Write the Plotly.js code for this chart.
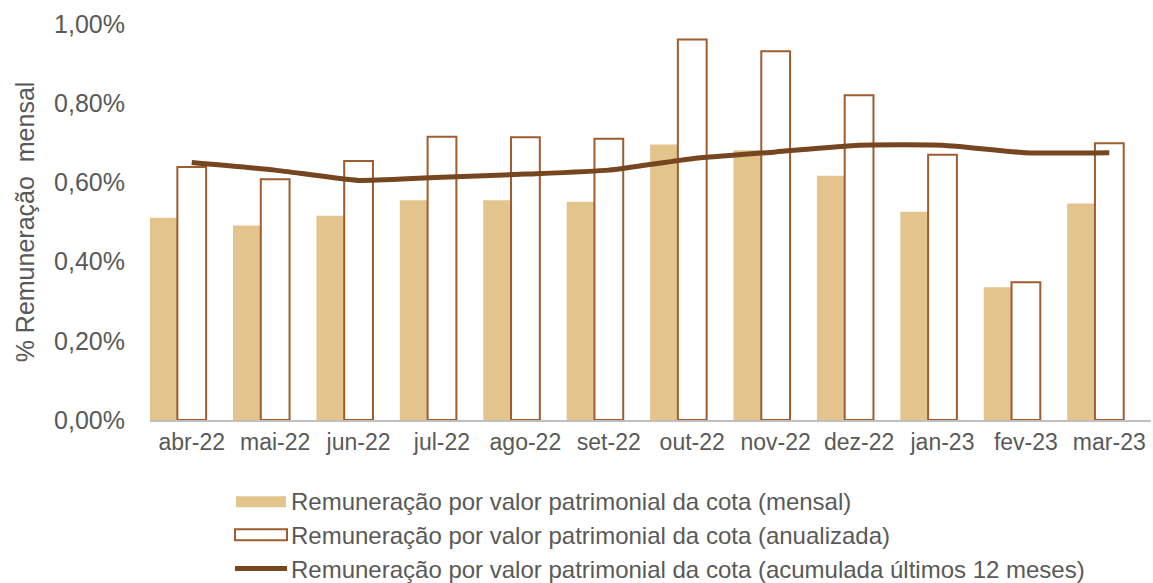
<!DOCTYPE html>
<html>
<head>
<meta charset="utf-8">
<script src="https://cdn.plot.ly/plotly-3.0.1.min.js"></script>
<style>html,body{margin:0;padding:0;background:#fff;}#chart{width:1153px;height:583px;}</style>
</head>
<body>
<div id="chart"></div>
<script>
const categories = ["abr-22","mai-22","jun-22","jul-22","ago-22","set-22","out-22","nov-22","dez-22","jan-23","fev-23","mar-23"];
const mensal = [0.511,0.491,0.516,0.555,0.555,0.551,0.696,0.681,0.617,0.526,0.335,0.547];
const anualizada = [0.639,0.608,0.654,0.715,0.714,0.710,0.961,0.931,0.820,0.670,0.348,0.699];
const acumulada = [0.650,0.631,0.605,0.613,0.621,0.631,0.660,0.677,0.694,0.694,0.675,0.675];
const seriesNames = [
  "Remuneração por valor patrimonial da cota (mensal)",
  "Remuneração por valor patrimonial da cota (anualizada)",
  "Remuneração por valor patrimonial da cota (acumulada últimos 12 meses)"
];
const yTitle = "% Remuneração  mensal";

const cMensal = "#E3C48D", cAnual = "#9E5C2F", cLine = "#75461F", cText = "#595959";
const FONT = "Liberation Sans, Arial, sans-serif";

// plot area geometry in pixels
const L = 150, R = 2, T = 23.5, B = 162.5, W = 1153, H = 583;
const pw = W - L - R, ph = H - T - B;
const px = x => (x - L) / pw;
const py = y => (H - B - y) / ph;

const traces = [
  {type:"bar", x:categories, y:mensal, name:seriesNames[0], marker:{color:cMensal, line:{width:0}},
   width:0.335, offset:-0.505, showlegend:false, hoverinfo:"x+y"},
  {type:"bar", x:categories, y:anualizada, name:seriesNames[1], marker:{color:"#FFFFFF", line:{color:cAnual, width:2}},
   width:0.345, offset:-0.172, showlegend:false, hoverinfo:"x+y"},
  {type:"scatter", mode:"lines", x:categories, y:acumulada, name:seriesNames[2],
   line:{color:cLine, width:5, shape:"spline", smoothing:0.5}, showlegend:false, hoverinfo:"x+y"}
];

const shapes = [
  {type:"rect", xref:"paper", yref:"paper", x0:px(236), x1:px(286), y0:py(508), y1:py(497), fillcolor:cMensal, line:{width:0}},
  {type:"rect", xref:"paper", yref:"paper", x0:px(235), x1:px(287), y0:py(541), y1:py(530), fillcolor:"#FFFFFF", line:{color:cAnual, width:2}},
  {type:"line", xref:"paper", yref:"paper", x0:px(235), x1:px(287), y0:py(569.5), y1:py(569.5), line:{color:cLine, width:5}}
];
const legY = [502, 536, 570];
const annotations = seriesNames.map((t,i)=>({
  xref:"paper", yref:"paper", x:px(289), y:py(legY[i]), xanchor:"left", yanchor:"middle",
  text:t, showarrow:false, font:{family:FONT, size:24, color:cText}
}));

const layout = {
  width:W, height:H,
  margin:{l:L, r:R, t:T, b:B, pad:0},
  paper_bgcolor:"#FFFFFF", plot_bgcolor:"#FFFFFF",
  barmode:"overlay",
  separators:",.",
  showlegend:false,
  font:{family:FONT, color:cText},
  xaxis:{type:"category", range:[-0.5, 11.5], showgrid:false, zeroline:false,
         showline:true, linecolor:"#BFBFBF", linewidth:2, ticks:"",
         tickfont:{family:FONT, size:23, color:cText}, automargin:false},
  yaxis:{range:[0,1], dtick:0.2, tick0:0, tickformat:".2f", ticksuffix:"%",
         showgrid:false, zeroline:false, showline:false, ticks:"",
         ticklabelstandoff:24,
         tickfont:{family:FONT, size:25, color:cText}, automargin:false,
         title:{text:yTitle, font:{family:FONT, size:25, color:cText}, standoff:12}},
  shapes:shapes,
  annotations:annotations
};

Plotly.newPlot("chart", traces, layout, {displayModeBar:false, staticPlot:true});
</script>
</body>
</html>
